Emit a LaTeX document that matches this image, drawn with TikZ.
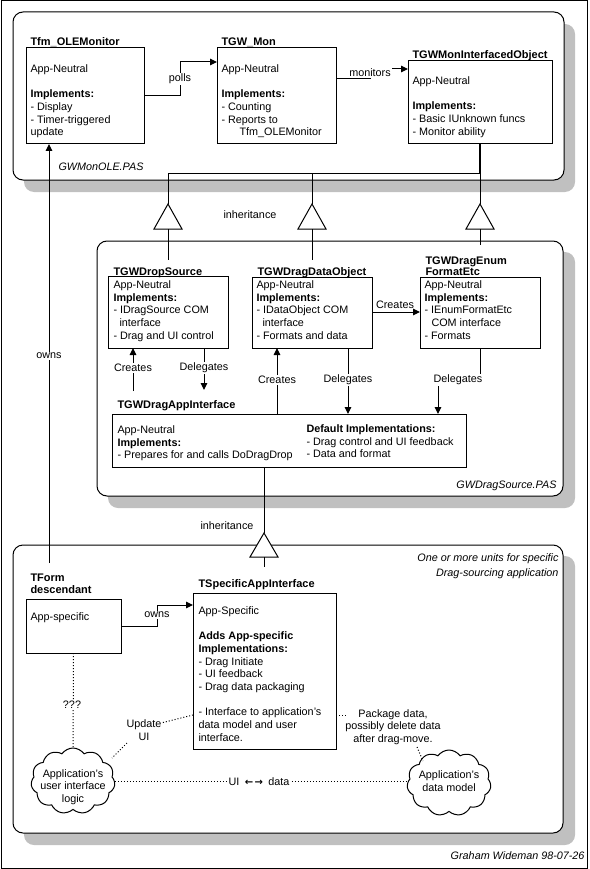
\documentclass[tikz,border=0pt]{standalone}
\usepackage{fontspec}
\setmainfont{Liberation Sans}
\newfontfamily\djv{DejaVu Sans}
\usetikzlibrary{arrows.meta,shapes.symbols}
\definecolor{shade}{RGB}{192,192,192}
\newcommand\fsn{\fontsize{10.8}{12.7}\selectfont}
\newcommand\fsb{\fontsize{11}{12.7}\selectfont\bfseries}
\begin{document}
\begin{tikzpicture}[x=1pt,y=-1pt,line width=1pt,
 box/.style={draw,line width=1pt,anchor=north west,inner sep=0pt,outer sep=0pt},
 txt/.style={anchor=north west,inner sep=0pt,align=left,font=\fsn},
 ttl/.style={anchor=base west,inner sep=0pt,font=\fsb},
 lbl/.style={fill=white,inner sep=1pt,font=\fsn,align=center},
 ital/.style={inner sep=0pt,font=\fsn\itshape},
 arr/.style={-{Triangle[length=7pt,width=6.5pt]}},
 dots/.style={dash pattern=on 1pt off 2pt},
 panel/.style={draw,fill=white,rounded corners=10pt},
 shadowsty/.style={fill=shade,rounded corners=10pt},
 tri/.style={draw,fill=white},
 cloudsty/.style={cloud,cloud puffs=11,cloud puff arc=110,aspect=1.25,draw,minimum width=84pt,minimum height=66pt,inner sep=0pt}
]
\useasboundingbox (0,0) rectangle (589,869);
\draw (1,1) rectangle (587,868);

% panels
\fill[shadowsty] (24,24) rectangle (575,192);
\draw[panel] (13,12) rectangle (564,180);
\fill[shadowsty] (108,252) rectangle (575,508);
\draw[panel] (97,241) rectangle (563,496);
\fill[shadowsty] (24,556) rectangle (575,845);
\draw[panel] (13,545) rectangle (563,833);

% top panel boxes
\node[ttl] (tfmT) at (30,46) {Tfm\_OLEMonitor};
\node[box,minimum width=118pt,minimum height=96pt] (tfm) at (26,48) {};
\node[txt] (tfmX) at (30,63) {\strut App-Neutral\\[12.7pt]\textbf{Implements:}\\- Display\\- Timer-triggered\\update};

\node[ttl] (monT) at (221,46) {TGW\_Mon};
\node[box,minimum width=119pt,minimum height=96pt] (mon) at (217,48) {};
\node[txt] (monX) at (221,63) {\strut App-Neutral\\[12.7pt]\textbf{Implements:}\\- Counting\\- Reports to\\\hspace*{18pt}Tfm\_OLEMonitor};

\node[ttl] (moiT) at (412,59) {TGWMonInterfacedObject};
\node[box,minimum width=144pt,minimum height=83pt] (moi) at (408,61) {};
\node[txt] (moiX) at (412,75) {\strut App-Neutral\\[12.7pt]\textbf{Implements:}\\- Basic IUnknown funcs\\- Monitor ability};

\node[ital,anchor=base west] (pas1) at (58,171) {GWMonOLE.PAS};

% middle panel boxes
\node[ttl] (dsT) at (113,275) {TGWDropSource};
\node[box,minimum width=120pt,minimum height=72pt] (ds) at (108,276) {};
\node[txt] (dsX) at (113,279) {\strut App-Neutral\\\textbf{Implements:}\\- IDragSource COM\\\hspace*{6pt}interface\\- Drag and UI control};

\node[ttl] (doT) at (257,275) {TGWDragDataObject};
\node[box,minimum width=120pt,minimum height=71pt] (do) at (252,277) {};
\node[txt] (doX) at (256,279) {\strut App-Neutral\\\textbf{Implements:}\\- IDataObject COM\\\hspace*{6pt}interface\\- Formats and data};

\node[ttl] (efT1) at (425,264) {TGWDragEnum};
\node[ttl] (efT2) at (425,275) {FormatEtc};
\node[box,minimum width=120pt,minimum height=71pt] (ef) at (420,277) {};
\node[txt] (efX) at (424,279) {\strut App-Neutral\\\textbf{Implements:}\\- IEnumFormatEtc\\\hspace*{7pt}COM interface\\- Formats};

\node[ttl] (aiT) at (117,408) {TGWDragAppInterface};
\node[box,minimum width=354pt,minimum height=53pt] (ai) at (112,414) {};
\node[txt] (aiX) at (117,424) {\strut App-Neutral\\\textbf{Implements:}\\- Prepares for and calls DoDragDrop};
\node[txt] (aiY) at (306,423) {\strut\textbf{Default Implementations:}\\- Drag control and UI feedback\\- Data and format};

\node[ital,anchor=base east] (pas2) at (557,488) {GWDragSource.PAS};

% bottom panel
\node[ital,anchor=base east] (unit1) at (559,561) {One or more units for specific};
\node[ital,anchor=base east] (unit2) at (559,576) {Drag-sourcing application};

\node[ttl] (tfT1) at (30,581) {TForm};
\node[ttl] (tfT2) at (30,593) {descendant};
\node[box,minimum width=95pt,minimum height=54pt] (tf) at (26,599) {};
\node[txt] (tfX) at (30,611) {\strut App-specific};

\node[ttl] (tsT) at (198,587) {TSpecificAppInterface};
\node[box,minimum width=143pt,minimum height=156pt] (ts) at (193,593) {};
\node[txt] (tsX) at (198,605) {\strut App-Specific\\[12.7pt]\textbf{Adds App-specific}\\\textbf{Implementations:}\\- Drag Initiate\\- UI feedback\\- Drag data packaging\\[12.7pt]- Interface to application's\\data model and user\\interface.};

\node[cloudsty] (c1) at (73,781) {};
\node[font=\fsn,align=center,inner sep=0pt] (c1X) at (73,787) {Application's\\user interface\\logic};
\node[cloudsty] (c2) at (449,783) {};
\node[font=\fsn,align=center,inner sep=0pt] (c2X) at (449,781) {Application's\\data model};

\node[ital,anchor=base east] (sig) at (585,859) {Graham Wideman 98-07-26};

% connectors top
\draw[arr] (tfm.east) -- (180,96) -- (180,62) -- (mon.west |- 0,62);
\node[lbl] (pollsL) at (180,79) {polls};
\draw[arr] (mon.east |- 0,79) -- (370,79) -- (370,69) -- (moi.west |- 0,69);
\node[lbl] (monL) at (370,73) {monitors};

% inheritance top
\draw[line width=2pt] (moi.south) -- (480,174);
\draw (168,174) -- (480,174);
\foreach \x/\e in {168/260,312/260,480/245}{
  \draw (\x,174) -- (\x,204);
  \draw[tri] (\x,204) -- (\x-14,229) -- (\x+14,229) -- cycle;
  \draw (\x,229) -- (\x,\e);
}
\node[lbl] (inh1) at (250,215) {inheritance};

% middle connectors
\draw[arr] (133,391) -- (ds.south -| 133,0);
\node[lbl] (cr1) at (133,368) {Creates};
\draw[arr] (ds.south -| 204,0) -- (204,390);
\node[lbl] (dl1) at (204,368) {Delegates};
\draw[arr] (ai.north -| 277,0) -- (do.south -| 277,0);
\node[lbl] (cr2) at (277,380) {Creates};
\draw[arr] (do.south -| 348,0) -- (ai.north -| 348,0);
\node[lbl] (dl2) at (348,380) {Delegates};
\draw[arr] (ef.south -| 480,0) -- (480,380) -- (438,380) -- (ai.north -| 438,0);
\node[lbl] (dl3) at (458,380) {Delegates};
\draw[arr] (do.east |- 0,312) -- (ef.west |- 0,312);
\node[font=\fsn,inner sep=0pt] (cr3) at (395,305) {Creates};

% bottom inheritance
\draw (ai.south -| 264,0) -- (264,533);
\draw[tri] (264,533) -- (250,557) -- (278,557) -- cycle;
\draw (264,557) -- (264,567);
\node[lbl] (inh2) at (227,526) {inheritance};

% owns
\draw[arr] (49,563) -- (tfm.south -| 49,0);
\node[lbl] (own1) at (49,356) {owns};
\draw[arr] (tf.east |- 0,626) -- (157,626) -- (157,605) -- (ts.west |- 0,605);
\node[lbl] (own2) at (157,615) {owns};

% dotted
\draw[dots] (tf.south) -- (c1.north);
\node[lbl] (qq) at (72,705) {???};
\node[lbl,fill=none] (upd) at (144,730) {Update\\UI};
\draw[dots] (ts.west |- 0,715) -- (161,723);
\draw[dots] (127,743) -- (112,758);
\draw[dots] (c1.east) -- (c2.west |- c1.east);
\node[lbl] (uid) at (259,782) {UI\enspace{\djv\bfseries\fontsize{10}{10}\selectfont ←\kern1.5pt→}\enspace data};
\draw[dots] (ts.east |- 0,715) -- (346,715);
\node[lbl,fill=none] (pkg) at (393,727) {Package data,\\possibly delete data\\after drag-move.};
\draw[dots] (417,747) -- (423,761);
\end{tikzpicture}
\end{document}
